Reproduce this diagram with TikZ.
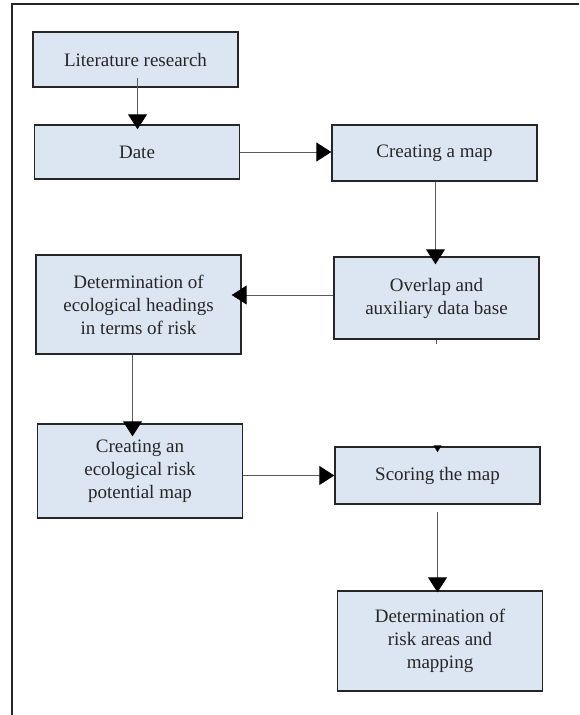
\documentclass[tikz,border=0pt]{standalone}
\usepackage{fontspec}
\setmainfont{Liberation Serif}
\usepackage{xcolor}
\usetikzlibrary{positioning,arrows.meta}
\definecolor{boxfill}{HTML}{DCE6F2}
\definecolor{boxline}{HTML}{262626}
\definecolor{flowline}{HTML}{5A5A5A}

\begin{document}
\begin{tikzpicture}[x=1pt,y=-1pt,
  stepbox/.style={draw=boxline,line width=1.4pt,fill=boxfill,minimum width=205pt,
    align=center,inner sep=2pt,text=boxline,font=\fontsize{19}{23}\selectfont},
  flow/.style={draw=flowline,line width=1pt,-{Triangle[length=15pt,width=19pt,color=black]}}]
\useasboundingbox (0,0) rectangle (579,715);
\draw[line width=1.3pt,boxline] (579,4) -- (12,4) -- (12,715); % frame

% Boxes
\node[stepbox,minimum height=55pt] (lit) at (135.5,59.5) {Literature research};
\node[stepbox,minimum height=54pt] (date) at (137,152) {Date};
\node[stepbox,minimum height=56pt] (cmap) at (434.5,153) {Creating a map};
\node[stepbox,minimum height=82pt] (overlap) at (436.5,298) {Overlap and\\auxiliary data base};
\node[stepbox,minimum height=99pt] (eco) at (138.5,304.5) {Determination of\\ecological headings\\in terms of risk};
\node[stepbox,minimum height=94pt] (riskpot) at (140,471) {Creating an\\ecological risk\\potential map};
\node[stepbox,minimum height=57pt] (score) at (437.5,475.5) {Scoring the map};
\node[stepbox,minimum height=100pt] (areas) at (440,641) {Determination of\\risk areas and\\mapping};

% Arrows
\draw[flow,shorten <=-10pt,shorten >=-5pt] ([xshift=2pt]lit.south) -- ([xshift=2pt]lit.south |- date.north);
\draw[flow] (date.east) -- (date.east -| cmap.west);
\draw[flow,shorten >=-8pt] ([xshift=1pt]cmap.south) -- ([xshift=1pt]cmap.south |- overlap.north);
\draw[flow,shorten >=-10pt] ([yshift=3pt]overlap.west) -- ([yshift=3pt]overlap.west -| eco.east);
\draw[flow,shorten >=-13pt] ([xshift=-6pt]eco.south) -- ([xshift=-6pt]eco.south |- riskpot.north);
\draw[flow] (riskpot.east |- score.west) -- (score.west);
\draw[flow,shorten <=7pt,shorten >=-2pt] (score.south) -- (score.south |- areas.north);

% stray bits
\draw[flowline,line width=0.8pt] (overlap.south) -- ++(0,4);
\fill (score.north) ++(-4,-1) -- ++(8,0) -- ++(-4,7) -- cycle;
\end{tikzpicture}
\end{document}
